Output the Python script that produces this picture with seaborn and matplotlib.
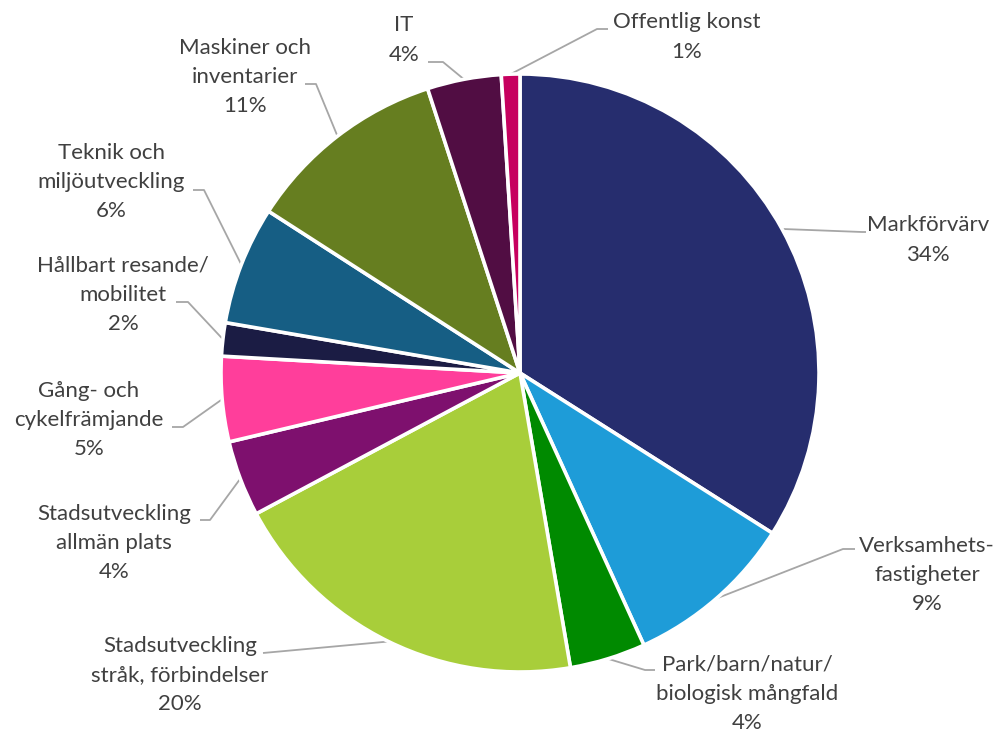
import numpy as np
import matplotlib
matplotlib.use('Agg')
import matplotlib.pyplot as plt
import seaborn as sns

sns.set_theme(style='white')
plt.rcParams['font.family'] = ['Lato', 'DejaVu Sans']

# data
categories = ['Markförvärv', 'Verksamhets-\nfastigheter', 'Park/barn/natur/\nbiologisk mångfald',
              'Stadsutveckling\nstråk, förbindelser', 'Stadsutveckling\nallmän plats',
              'Gång- och\ncykelfrämjande', 'Hållbart resande/\nmobilitet', 'Teknik och\nmiljöutveckling',
              'Maskiner och\ninventarier', 'IT', 'Offentlig konst']
shares = [34.0, 9.2, 4.1, 19.9, 4.1, 4.6, 1.8, 6.4, 10.9, 4.0, 1.0]
colors = ['#262D6E', '#1E9CD8', '#008A00', '#A8CE3A', '#7E106E', '#FF3E9B',
          '#1B1C44', '#165E84', '#667E20', '#510D43', '#C6005F']

# label layout in reference pixels: text centre, elbow point, line end at text
label_xy = [(928, 240), (927, 575), (747, 694), (180, 675), (114, 543), (89, 420),
            (123, 295), (111, 182), (245, 77), (404, 40), (687, 37)]
elbow_xy = [(862, 232), (843, 549), (645, 670), (263, 653), (210, 520), (183, 427),
            (188, 302), (204, 190), (316, 84), (443, 62), (597, 29)]
tail_xy = [(866, 232), (855, 549), (655, 670), (263, 653), (200, 520), (172, 427),
           (176, 302), (193, 190), (305, 84), (428, 62), (608, 29)]

W, H, DPI = 997, 735, 100
CX, CY, R = 520, 373, 299


def to_data(p):
    return ((p[0] - CX) / R, (CY - p[1]) / R)


fig = plt.figure(figsize=(W / DPI, H / DPI), dpi=DPI)
ax = fig.add_axes([0, 0, 1, 1])
wedges, _ = ax.pie(shares, colors=colors, startangle=90, counterclock=False,
                   radius=1, center=(0, 0),
                   wedgeprops=dict(edgecolor='white', linewidth=2.6))
ax.set_xlim(-CX / R, (W - CX) / R)
ax.set_ylim(-(H - CY) / R, CY / R)
ax.set_aspect('equal')
ax.axis('off')

for w, cat, v, lab, elb, tail in zip(wedges, categories, shares, label_xy, elbow_xy, tail_xy):
    ang = np.deg2rad((w.theta1 + w.theta2) / 2)
    start = (np.cos(ang), np.sin(ang))
    e = to_data(elb)
    t = to_data(tail)
    ax.plot([start[0], e[0], t[0]], [start[1], e[1], t[1]], color='#A6A6A6', lw=1.3,
            solid_capstyle='butt', zorder=0)
    lx, ly = to_data(lab)
    ax.text(lx, ly, f'{cat}\n{round(v)}%', ha='center', va='center', fontsize=16,
            color='#404040', linespacing=1.58)

fig.savefig('out.png', dpi=DPI)
